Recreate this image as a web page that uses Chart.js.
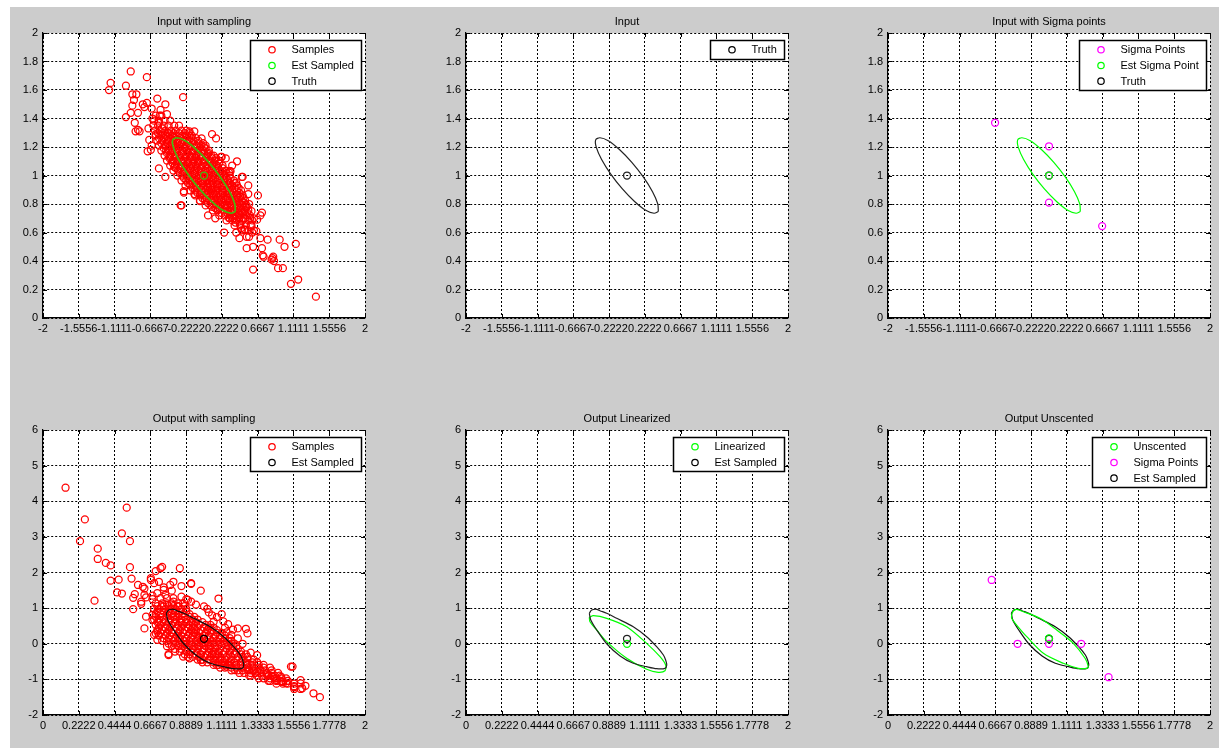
<!DOCTYPE html>
<html><head><meta charset="utf-8">
<script src="https://cdn.jsdelivr.net/npm/chart.js@4/dist/chart.umd.min.js"></script>
<style>
html,body{margin:0;padding:0;background:#fff;width:1219px;height:748px;overflow:hidden;}
#fig{position:absolute;left:10px;top:7px;width:1209px;height:741px;background:#cccccc;}
canvas{position:absolute;}
</style></head><body>
<div id="fig"></div>
<canvas id="c0"></canvas><canvas id="c1"></canvas><canvas id="c2"></canvas>
<canvas id="c3"></canvas><canvas id="c4"></canvas><canvas id="c5"></canvas>
<script>
// ---------- tick values / labels ----------
const inXTicks = [-2,-1.5556,-1.1111,-0.6667,-0.2222,0.2222,0.6667,1.1111,1.5556,2];
const inXLabels = ['-2','-1.5556','-1.1111','-0.6667','-0.2222','0.2222','0.6667','1.1111','1.5556','2'];
const inYTicks = [0,0.2,0.4,0.6,0.8,1,1.2,1.4,1.6,1.8,2];
const inYLabels = ['0','0.2','0.4','0.6','0.8','1','1.2','1.4','1.6','1.8','2'];
const outXTicks = [0,0.2222,0.4444,0.6667,0.8889,1.1111,1.3333,1.5556,1.7778,2];
const outXLabels = ['0','0.2222','0.4444','0.6667','0.8889','1.1111','1.3333','1.5556','1.7778','2'];
const outYTicks = [-2,-1,0,1,2,3,4,5,6];
const outYLabels = ['-2','-1','0','1','2','3','4','5','6'];

// ---------- input samples (dense core rows: [y, xs]) ----------
const inputCoreRows = [
 [1.42,[-0.60,-0.53]],
 [1.385,[-0.62,-0.56,-0.49,-0.42]],
 [1.35,[-0.63,-0.57,-0.50,-0.44,-0.37,-0.31]],
 [1.315,[-0.61,-0.55,-0.48,-0.41,-0.35,-0.28,-0.22]],
 [1.28,[-0.60,-0.53,-0.47,-0.40,-0.34,-0.27,-0.21,-0.15]],
 [1.245,[-0.58,-0.52,-0.45,-0.39,-0.32,-0.26,-0.19,-0.13,-0.07]],
 [1.21,[-0.56,-0.49,-0.43,-0.36,-0.30,-0.23,-0.17,-0.10,-0.04,0.02]],
 [1.175,[-0.53,-0.47,-0.40,-0.34,-0.27,-0.21,-0.14,-0.08,-0.01,0.06]],
 [1.14,[-0.49,-0.43,-0.36,-0.30,-0.23,-0.17,-0.10,-0.04,0.03,0.09]],
 [1.105,[-0.46,-0.39,-0.33,-0.26,-0.20,-0.13,-0.07,0.00,0.06,0.13,0.18]],
 [1.07,[-0.42,-0.36,-0.29,-0.23,-0.16,-0.10,-0.03,0.03,0.10,0.16,0.23]],
 [1.035,[-0.38,-0.32,-0.25,-0.19,-0.12,-0.06,0.01,0.07,0.14,0.20,0.27]],
 [1.00,[-0.33,-0.27,-0.20,-0.14,-0.07,-0.01,0.06,0.12,0.19,0.25,0.32]],
 [0.965,[-0.28,-0.22,-0.15,-0.09,-0.02,0.04,0.11,0.17,0.24,0.30,0.37]],
 [0.93,[-0.23,-0.17,-0.10,-0.04,0.03,0.09,0.16,0.22,0.29,0.35,0.41]],
 [0.895,[-0.17,-0.11,-0.04,0.02,0.09,0.15,0.22,0.28,0.35,0.41,0.46]],
 [0.86,[-0.11,-0.05,0.02,0.08,0.15,0.21,0.28,0.34,0.41,0.48]],
 [0.825,[-0.05,0.01,0.08,0.14,0.21,0.27,0.34,0.40,0.47,0.51]],
 [0.79,[0.02,0.08,0.15,0.21,0.28,0.34,0.41,0.47,0.53]],
 [0.755,[0.11,0.17,0.24,0.30,0.37,0.43,0.50,0.55]],
 [0.72,[0.19,0.26,0.32,0.39,0.45,0.52,0.57]],
 [0.685,[0.28,0.35,0.41,0.48,0.55,0.60]],
 [0.65,[0.38,0.45,0.52,0.59]],
 [0.615,[0.47,0.55,0.62]]
];
const inputInnerRows = [
 [1.297,[-0.57,-0.51,-0.44,-0.38,-0.31,-0.24,-0.18]],
 [1.262,[-0.56,-0.49,-0.43,-0.36,-0.30,-0.23,-0.16,-0.10]],
 [1.227,[-0.53,-0.46,-0.40,-0.33,-0.27,-0.20,-0.14,-0.07,-0.01]],
 [1.192,[-0.50,-0.44,-0.37,-0.31,-0.24,-0.18,-0.11,-0.05,0.02]],
 [1.157,[-0.46,-0.40,-0.33,-0.27,-0.20,-0.14,-0.07,0.00,0.06]],
 [1.122,[-0.43,-0.36,-0.30,-0.23,-0.17,-0.10,-0.04,0.03,0.10,0.15]],
 [1.087,[-0.39,-0.33,-0.26,-0.20,-0.13,-0.07,0.00,0.07,0.13,0.19]],
 [1.052,[-0.35,-0.29,-0.22,-0.16,-0.09,-0.03,0.04,0.10,0.17,0.23]],
 [1.017,[-0.30,-0.24,-0.17,-0.11,-0.04,0.02,0.09,0.15,0.22,0.28]],
 [0.982,[-0.25,-0.19,-0.12,-0.06,0.01,0.07,0.14,0.20,0.27,0.33]],
 [0.947,[-0.20,-0.14,-0.07,-0.01,0.06,0.12,0.19,0.25,0.32,0.38]],
 [0.912,[-0.14,-0.08,-0.01,0.05,0.12,0.18,0.25,0.31,0.38,0.43]],
 [0.877,[-0.08,-0.02,0.05,0.11,0.18,0.24,0.31,0.37,0.44]],
 [0.842,[-0.02,0.04,0.11,0.17,0.24,0.30,0.37,0.43,0.49]],
 [0.807,[0.05,0.11,0.18,0.24,0.31,0.37,0.44,0.50]],
 [0.772,[0.14,0.20,0.27,0.33,0.40,0.46,0.52]],
 [0.737,[0.22,0.29,0.35,0.42,0.48,0.54]],
 [0.702,[0.31,0.38,0.44,0.51,0.57]]
];
const inputFringe = [
 [-0.91,1.73],[-0.71,1.69],[-1.16,1.65],[-1.18,1.60],[-0.97,1.63],[-0.89,1.57],[-0.84,1.57],[-0.26,1.55],[-0.58,1.54],[-0.87,1.53],
 [-0.48,1.50],[-0.76,1.50],[-0.71,1.51],[-0.74,1.48],[-0.89,1.49],[-0.65,1.47],[-0.54,1.46],[-0.91,1.44],[-0.97,1.41],[-0.82,1.44],
 [-0.86,1.37],[-0.82,1.32],[-0.85,1.31],[-0.80,1.31],[-0.69,1.33],[-0.70,1.17],[-0.56,1.05],[-0.48,0.99],[-0.29,0.79],[-0.25,0.88],
 [0.41,1.10],[0.10,1.29],[0.15,1.26],[-0.03,1.26],[-0.12,1.31],[-0.18,1.31],[0.21,1.13],[0.27,1.12],[0.47,0.99],[0.32,1.03],
 [1.39,0.15],[1.08,0.24],[1.17,0.27],[1.14,0.52],[1.00,0.50],[0.94,0.55],[0.92,0.35],[0.98,0.35],[0.85,0.42],[0.87,0.40],
 [0.61,0.34],[0.73,0.44],[0.72,0.49],[0.61,0.50],[0.79,0.55],[0.70,0.56],[0.44,0.56],[0.56,0.57],[0.65,0.61],[0.58,0.65],
 [0.51,0.62],[0.70,0.72],[0.72,0.74],[0.66,0.69],[0.67,0.86],[0.55,0.93],[0.55,0.87],[0.48,0.99],[0.22,1.13],[0.12,1.14],
 [0.33,1.03],[0.31,1.02],[0.36,0.70],[0.32,0.70],[0.14,0.70],[0.05,0.72],[0.50,0.62],[-0.25,0.89],[-0.28,0.79],[-0.05,0.82],
 [0.43,0.77],[0.59,0.75],[0.53,0.78],[-0.66,1.18],[-0.68,1.25],[-0.65,1.21],[0.53,0.57],[0.53,0.49],[0.74,0.43],[0.84,0.41],
 [0.86,0.43],[-0.40,1.22],[-0.60,1.29],[-0.64,1.40],[-0.55,1.42],[-0.46,1.43],[0.00,1.20],[0.05,1.15],[0.25,0.60],[0.40,0.60],
 [0.45,0.66],[0.60,0.60],[0.62,0.70],[0.17,0.76],[0.10,0.78],[-0.12,0.87],[-0.18,0.94],[-0.37,1.06],[-0.42,1.13],[0.35,1.07],
 [0.40,0.95],[0.45,0.85],[0.56,0.80],
 [-0.52,1.33],[-0.45,1.30],[-0.38,1.27],[-0.30,1.23],[-0.24,1.19],[-0.15,1.13],[-0.08,1.09],[0.02,1.03],[0.09,0.98],[0.16,0.94],
 [0.23,0.88],[0.30,0.84],[0.37,0.79],[0.43,0.74],[0.49,0.70],[-0.44,1.18],[-0.36,1.14],[-0.28,1.10],[-0.20,1.05],[-0.12,1.01],
 [-0.04,0.96],[0.05,0.92],[0.12,0.87],[0.19,0.83],[0.26,0.79],[0.33,0.75],[-0.50,1.26],[-0.56,1.37],[0.39,0.67],[0.46,0.63]
];
// input covariance ellipse
const inputEllipse = [
 [0.389,0.747],[0.382,0.801],[0.317,0.886],[0.204,0.988],[0.060,1.092],[-0.094,1.182],[-0.233,1.244],[-0.336,1.265],
 [-0.389,1.250],[-0.382,1.199],[-0.317,1.114],[-0.204,1.012],[-0.060,0.908],[0.094,0.818],[0.233,0.756],[0.336,0.735]
];
const inputMean = [[0.0,1.0]];
const inputSigmaPoints = [[-0.67,1.37],[0.0,1.205],[0.0,1.0],[0.0,0.81],[0.66,0.645]];

// ---------- output samples ----------
const outputCoreRows = [
 [1.28,[0.73,0.77,0.81]],
 [1.13,[0.70,0.74,0.77,0.80,0.84,0.87]],
 [0.98,[0.69,0.72,0.76,0.79,0.82,0.86,0.89]],
 [0.83,[0.70,0.73,0.77,0.80,0.84,0.87,0.91]],
 [0.68,[0.69,0.72,0.75,0.79,0.82,0.86,0.89,0.93,0.96]],
 [0.53,[0.70,0.73,0.77,0.80,0.84,0.87,0.91,0.94,0.97,1.01,1.04]],
 [0.38,[0.71,0.74,0.78,0.81,0.85,0.88,0.92,0.95,0.98,1.02,1.05,1.08]],
 [0.23,[0.72,0.76,0.79,0.83,0.86,0.90,0.93,0.96,1.00,1.03,1.07,1.10,1.13]],
 [0.08,[0.74,0.77,0.81,0.84,0.88,0.91,0.95,0.98,1.01,1.05,1.08,1.12,1.15,1.17]],
 [-0.07,[0.77,0.80,0.84,0.87,0.91,0.94,0.97,1.01,1.04,1.08,1.11,1.15,1.18,1.20]],
 [-0.22,[0.82,0.85,0.89,0.92,0.96,0.99,1.03,1.06,1.09,1.13,1.16,1.20,1.23]],
 [-0.37,[0.90,0.93,0.97,1.00,1.04,1.07,1.10,1.14,1.17,1.21,1.24,1.27]],
 [-0.52,[0.99,1.02,1.06,1.09,1.13,1.16,1.19,1.23,1.26,1.30,1.33]],
 [-0.67,[1.10,1.13,1.17,1.20,1.24,1.27,1.30,1.34,1.37,1.41]],
 [-0.82,[1.22,1.25,1.29,1.32,1.35,1.39,1.42,1.46]],
 [-0.97,[1.34,1.37,1.41,1.44,1.48,1.51]],
 [-1.12,[1.45,1.49,1.52,1.56]],
 [-1.27,[1.56,1.60]]
];
const outputInnerRows = [
 [1.055,[0.71,0.74,0.78,0.81,0.84,0.88]],
 [0.905,[0.71,0.75,0.78,0.82,0.85,0.89]],
 [0.755,[0.70,0.74,0.77,0.81,0.84,0.88,0.91,0.94]],
 [0.605,[0.71,0.75,0.78,0.82,0.85,0.89,0.92,0.95,0.99]],
 [0.455,[0.72,0.76,0.79,0.83,0.86,0.90,0.93,0.96,1.00,1.03,1.06]],
 [0.305,[0.73,0.77,0.80,0.84,0.87,0.91,0.94,0.97,1.01,1.04,1.08,1.11]],
 [0.155,[0.75,0.78,0.82,0.85,0.89,0.92,0.96,0.99,1.03,1.06,1.10,1.13,1.16]],
 [0.005,[0.78,0.82,0.85,0.89,0.92,0.96,0.99,1.03,1.06,1.10,1.13,1.17,1.19]],
 [-0.145,[0.82,0.86,0.89,0.93,0.96,1.00,1.03,1.07,1.10,1.14,1.17,1.21]],
 [-0.295,[0.88,0.91,0.95,0.98,1.02,1.05,1.09,1.12,1.16,1.19,1.23,1.26]],
 [-0.445,[0.96,0.99,1.03,1.06,1.10,1.13,1.17,1.20,1.24,1.27,1.31]],
 [-0.595,[1.06,1.09,1.13,1.16,1.20,1.23,1.27,1.30,1.34,1.37]],
 [-0.745,[1.17,1.21,1.24,1.28,1.31,1.35,1.38,1.42]],
 [-0.895,[1.29,1.33,1.36,1.40,1.44,1.47]],
 [-1.045,[1.41,1.45,1.48,1.52]]
];
const outputFringe = [
 [0.14,4.38],[0.52,3.82],[0.26,3.49],[0.49,3.10],[0.23,2.88],[0.54,2.88],[0.34,2.67],[0.34,2.38],[0.39,2.27],[0.42,2.20],
 [0.54,2.15],[0.32,1.21],[0.42,1.77],[0.47,1.80],[0.46,1.44],[0.49,1.41],[0.55,1.83],[0.56,0.97],[0.57,1.39],[0.56,1.29],
 [0.59,1.65],[0.63,1.55],[0.64,1.30],[0.61,1.12],[0.68,1.35],[0.70,2.04],[0.73,2.12],[0.74,2.16],[0.85,2.12],[0.92,1.68],
 [0.98,1.49],[0.81,1.74],[0.86,1.62],[0.67,1.84],[0.72,1.74],[1.09,1.27],[1.11,0.83],[1.12,0.63],[1.02,0.98],[1.03,0.88],
 [1.14,0.32],[1.21,0.43],[1.26,0.42],[1.27,0.29],[1.24,0.00],[1.29,-0.25],[0.78,-0.29],[0.68,0.81],[0.71,0.34],[0.72,0.25],
 [0.69,0.25],[1.55,-0.64],[1.60,-1.02],[1.61,-1.25],[1.63,-1.18],[1.68,-1.39],[1.72,-1.50],[1.56,-1.22],[1.51,-1.11],[1.48,-1.07],
 [1.45,-1.02],[1.43,-0.93],[1.39,-0.83],[1.35,-0.74],[1.48,-0.93],[0.75,1.58],[0.79,1.65],[0.80,1.49],[0.76,1.37],[0.86,1.32],
 [0.81,1.18],[0.89,1.25],[0.84,1.04],[0.92,1.18],[0.92,1.70],[0.62,1.60],[0.67,1.79],[0.69,1.70],[0.63,1.37],[0.61,1.18],
 [0.68,1.25],[0.71,1.42],[0.75,1.51],[0.90,1.23],[0.64,0.76],[0.68,0.67],[0.63,0.43],[0.70,0.29],[0.71,0.11],[0.78,-0.32],
 [0.87,-0.36],[0.91,-0.41],[0.98,-0.46],[1.08,-0.60],[1.14,-0.64],[1.27,-0.74],[1.33,-0.78],[1.39,-0.88],[1.45,-0.97],[1.49,-1.07],
 [1.56,-1.19],[1.60,-1.11],[1.33,-0.32],[1.54,-0.64],[1.06,0.62],[1.13,0.45],[1.17,0.25],[1.21,0.15],[1.18,0.40],[1.08,0.75],
 [1.15,0.55],[1.00,1.05],[0.95,1.10],[1.05,0.80],
 [0.75,1.05],[0.78,0.90],[0.82,0.76],[0.86,0.60],[0.90,0.45],[0.94,0.30],[0.97,0.16],[1.00,0.01],[1.04,-0.14],[1.07,-0.29],
 [1.11,-0.44],[1.15,-0.59],[1.19,-0.74],[1.28,-0.89],[1.40,-1.04],[0.72,0.60],[0.76,0.45],[0.80,0.30],[0.84,0.15],[0.88,-0.01],
 [0.93,-0.15],[0.98,-0.30],[1.04,-0.45],[1.11,-0.58],[1.20,-0.60],[1.30,-0.75],[1.42,-0.90],[1.52,-1.04]
];
const sampledOutEllipse = [
 [0.766,0.855],[0.781,0.947],[0.812,0.967],[0.832,0.928],[0.874,0.855],[0.936,0.714],[1.039,0.479],[1.122,0.198],
 [1.184,-0.083],[1.226,-0.316],[1.240,-0.456],[1.247,-0.596],[1.236,-0.690],[1.184,-0.700],[1.122,-0.644],[1.039,-0.549],
 [0.957,-0.344],[0.874,0.000],[0.812,0.386],[0.775,0.667]
];
const linearizedEllipse = [
 [0.766,0.743],[0.791,0.788],[0.874,0.714],[0.998,0.479],[1.122,0.012],[1.205,-0.363],[1.240,-0.596],
 [1.236,-0.757],[1.194,-0.801],[1.122,-0.717],[0.998,-0.408],[0.874,0.058],[0.812,0.386],[0.770,0.619]
];
const unscentedEllipse = [
 [0.768,0.807],[0.778,0.919],[0.799,0.967],[0.841,0.900],[0.944,0.714],[1.048,0.386],[1.151,0.012],[1.224,-0.408],
 [1.244,-0.644],[1.234,-0.690],[1.182,-0.690],[1.089,-0.549],[0.965,-0.268],[0.862,0.198],[0.799,0.526],[0.768,0.714]
];
const sampledOutMean = [[1.0,0.14]];
const linearizedMean = [[1.0,0.0]];
const unscentedMean = [[1.0,0.15]];
const outputSigmaPoints = [[0.644,1.79],[0.805,0.0],[1.0,0.0],[1.2,0.0],[1.37,-0.94]];

// ---------- helpers ----------
const FONT = '"Liberation Sans", Arial, Helvetica, sans-serif';
const RED='#ff0000', GREEN='#00ff00', MAG='#ff00ff', BLK='#000000';
const pts = a => a.map(([x,y]) => ({x,y}));
const rowsToPts = rows => { const o=[]; rows.forEach(([y,xs]) => xs.forEach(x => o.push({x,y}))); return o; };
const loop = a => pts(a.concat([a[0]]));

function markers(data, color){ return {data, showLine:false, pointStyle:'circle', pointRadius:3.5, pointHoverRadius:3.5,
  pointBorderWidth:1.25, pointBorderColor:color, pointBackgroundColor:'rgba(0,0,0,0)'}; }
function curve(data, color, w){ return {data, showLine:true, pointRadius:0, borderColor:color, borderWidth:w||1.2, tension:0.3, fill:false}; }

const matlabAxes = {
  id:'matlabAxes',
  beforeDraw(chart){
    const a = chart.chartArea, ctx = chart.ctx;
    ctx.save(); ctx.fillStyle='#fff'; ctx.fillRect(a.left,a.top,a.right-a.left,a.bottom-a.top); ctx.restore();
  },
  afterDatasetsDraw(chart, args, opts){
    const a = chart.chartArea, ctx = chart.ctx, xs = chart.scales.x, ys = chart.scales.y;
    ctx.save();
    ctx.strokeStyle='#000'; ctx.lineWidth=1; ctx.setLineDash([]);
    ctx.beginPath();
    xs.ticks.forEach(t => { const p = Math.round(xs.getPixelForValue(t.value))+0.5;
      ctx.moveTo(p,a.bottom); ctx.lineTo(p,a.bottom-4); ctx.moveTo(p,a.top); ctx.lineTo(p,a.top+4); });
    ys.ticks.forEach(t => { const p = Math.round(ys.getPixelForValue(t.value))+0.5;
      ctx.moveTo(a.left,p); ctx.lineTo(a.left+4,p); ctx.moveTo(a.right,p); ctx.lineTo(a.right-4,p); });
    ctx.stroke();
    // legend
    const items = opts.items || [];
    if (items.length){
      ctx.font = '11px ' + FONT;
      const tw = Math.max(...items.map(i => ctx.measureText(i.label).width));
      const rowH = 15.7, w = Math.round(41 + tw + 8), h = Math.round(items.length*rowH + 2.8);
      const x0 = Math.round(a.right - 4.5 - w) + 0.5, y0 = Math.round(a.top + 6.5) + 0.5;
      ctx.fillStyle='#fff'; ctx.fillRect(x0,y0,w,h);
      ctx.strokeStyle='#000'; ctx.lineWidth=1.5; ctx.strokeRect(x0,y0,w,h);
      items.forEach((it,i) => {
        const cy = y0 + 1.4 + (i+0.5)*rowH;
        ctx.beginPath(); ctx.strokeStyle=it.color; ctx.lineWidth=1.25; ctx.arc(x0+21.5, cy, 3.2, 0, Math.PI*2); ctx.stroke();
        ctx.fillStyle='#000'; ctx.textBaseline='middle'; ctx.textAlign='left'; ctx.fillText(it.label, x0+41, cy+0.5);
      });
    }
    ctx.restore();
  }
};

function axisOpts(min,max,ticks,labels,isX){
  return {
    type:'linear', min, max,
    afterBuildTicks(axis){ axis.ticks = ticks.map(v => ({value:v})); },
    afterFit(axis){ if(isX) axis.height = 25; else axis.width = 40; },
    ticks:{ autoSkip:false, maxRotation:0, minRotation:0, padding: isX?4:5, color:'#000',
      font:{family:FONT,size:11}, callback:(v,i) => labels[i] },
    grid:{ color:'#000', lineWidth:1, drawTicks:false },
    border:{ display:true, color:'#000', width:1.2, dash:[2,2] }
  };
}

const colLeft = [43,466,888], rowTop = [33,430], W = 322, H = 285;
function makeChart(idx, col, row, title, top, datasets, legendItems){
  const cv = document.getElementById('c'+idx);
  const cw = 40 + W + 10, ch = 30 + H + 25;
  cv.width = cw; cv.height = ch;
  cv.style.left = (colLeft[col]-40)+'px'; cv.style.top = (rowTop[row]-30)+'px';
  cv.style.width = cw+'px'; cv.style.height = ch+'px';
  const xa = top ? axisOpts(-2,2,inXTicks,inXLabels,true) : axisOpts(0,2,outXTicks,outXLabels,true);
  const ya = top ? axisOpts(0,2,inYTicks,inYLabels,false) : axisOpts(-2,6,outYTicks,outYLabels,false);
  new Chart(cv, {
    type:'scatter',
    data:{ datasets },
    options:{
      responsive:false, animation:false, devicePixelRatio:1,
      layout:{ padding:{ left:0, right:10, top:0, bottom:0 } },
      plugins:{
        legend:{ display:false }, tooltip:{ enabled:false },
        title:{ display:true, text:title, color:'#000', fullSize:false,
          font:{ family:FONT, size:11, weight:'normal' }, padding:{ top:12.6, bottom:4.2 } },
        matlabAxes:{ items: legendItems }
      },
      scales:{ x:xa, y:ya }
    },
    plugins:[matlabAxes]
  });
}

// top-left: Input with sampling
makeChart(0,0,0,'Input with sampling',true,[
  curve(loop(inputEllipse),'#3fbf10',1.6),
  markers(pts(inputMean),'#3fbf10'),
  markers(rowsToPts(inputCoreRows).concat(rowsToPts(inputInnerRows), pts(inputFringe)),RED),
  markers(pts(inputMean),BLK)
],[{label:'Samples',color:RED},{label:'Est Sampled',color:GREEN},{label:'Truth',color:BLK}]);

// top-middle: Input
makeChart(1,1,0,'Input',true,[
  markers(pts(inputMean),'#222'),
  curve(loop(inputEllipse),'#222')
],[{label:'Truth',color:BLK}]);

// top-right: Input with Sigma points
makeChart(2,2,0,'Input with Sigma points',true,[
  curve(loop(inputEllipse),GREEN),
  markers(pts(inputMean),GREEN),
  markers(pts(inputSigmaPoints),MAG),
  markers(pts(inputMean),BLK)
],[{label:'Sigma Points',color:MAG},{label:'Est Sigma Point',color:GREEN},{label:'Truth',color:BLK}]);

// bottom-left: Output with sampling
makeChart(3,0,1,'Output with sampling',false,[
  curve(loop(sampledOutEllipse),'#111'),
  markers(pts(sampledOutMean),BLK),
  markers(rowsToPts(outputCoreRows).concat(rowsToPts(outputInnerRows), pts(outputFringe)),RED)
],[{label:'Samples',color:RED},{label:'Est Sampled',color:BLK}]);

// bottom-middle: Output Linearized
makeChart(4,1,1,'Output Linearized',false,[
  curve(loop(sampledOutEllipse),'#222'),
  markers(pts(sampledOutMean),'#222'),
  curve(loop(linearizedEllipse),GREEN),
  markers(pts(linearizedMean),GREEN)
],[{label:'Linearized',color:GREEN},{label:'Est Sampled',color:BLK}]);

// bottom-right: Output Unscented
makeChart(5,2,1,'Output Unscented',false,[
  markers(pts(unscentedMean),GREEN),
  curve(loop(unscentedEllipse),GREEN),
  markers(pts(outputSigmaPoints),MAG),
  curve(loop(sampledOutEllipse),'#111'),
  markers(pts(sampledOutMean),BLK)
],[{label:'Unscented',color:GREEN},{label:'Sigma Points',color:MAG},{label:'Est Sampled',color:BLK}]);
</script>
</body></html>
